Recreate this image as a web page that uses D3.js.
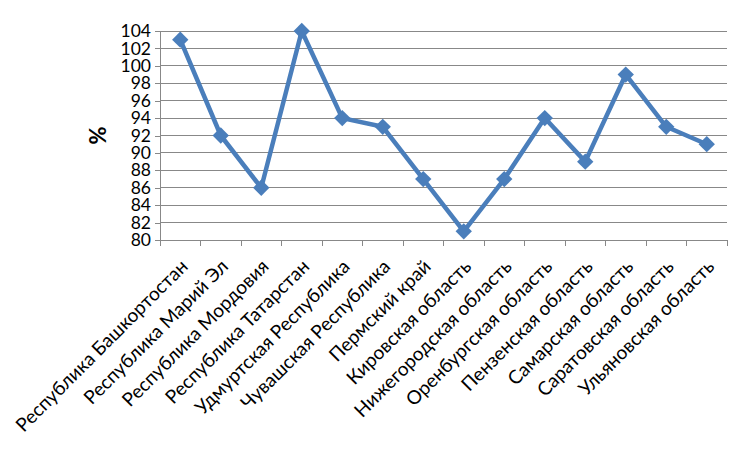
<!DOCTYPE html>
<html lang="ru">
<head>
    <meta charset="utf-8">
    <title>Chart</title>
    <style>
        body { margin: 0; background: #fff; }
        .axis text { font-family: Lato, "Open Sans", sans-serif; fill: #000; }
        .axis path, .axis line { stroke: #888; shape-rendering: crispEdges; }
        .grid line { stroke: #888; shape-rendering: crispEdges; }
    </style>
</head>
<body>
<div id="chart"></div>
<script src="https://cdn.jsdelivr.net/npm/d3@7"></script>
<script>
    var regions = [
        "Республика Башкортостан", "Республика Марий Эл", "Республика Мордовия",
        "Республика Татарстан", "Удмуртская Республика", "Чувашская Республика",
        "Пермский край", "Кировская область", "Нижегородская область",
        "Оренбургская область", "Пензенская область", "Самарская область",
        "Саратовская область", "Ульяновская область"
    ];
    var values = [103, 92, 86, 104, 94, 93, 87, 81, 87, 94, 89, 99, 93, 91];
    var yTicks = [80, 82, 84, 86, 88, 90, 92, 94, 96, 98, 100, 102, 104];

    var W = 749, H = 449;
    var margin = { top: 31, right: 22, bottom: 209, left: 160 },
        width = W - margin.left - margin.right,
        height = H - margin.top - margin.bottom;

    var svg = d3.select("#chart").append("svg")
        .attr("width", W)
        .attr("height", H)
        .append("g")
        .attr("transform", "translate(" + margin.left + "," + margin.top + ")");

    var x = d3.scaleBand().domain(regions).range([0, width]);
    var y = d3.scaleLinear().domain([80, 104]).range([height, 0]);

    // horizontal gridlines
    svg.append("g").attr("class", "grid")
        .selectAll("line")
        .data(yTicks.slice(1))
        .enter().append("line")
        .attr("x1", 0).attr("x2", width)
        .attr("y1", function(d) { return y(d); })
        .attr("y2", function(d) { return y(d); });

    // y axis
    var yAxis = svg.append("g").attr("class", "axis")
        .call(d3.axisLeft(y).tickValues(yTicks).tickSize(5).tickPadding(4));
    yAxis.selectAll("text").style("font-size", "17.5px");

    // x axis: ticks at category boundaries
    var xAxis = svg.append("g").attr("class", "axis")
        .attr("transform", "translate(0," + height + ")");
    xAxis.append("line").attr("x1", 0).attr("x2", width);
    xAxis.selectAll(".bt")
        .data(d3.range(regions.length + 1))
        .enter().append("line")
        .attr("class", "bt")
        .attr("x1", function(i) { return i * x.step(); })
        .attr("x2", function(i) { return i * x.step(); })
        .attr("y1", 0).attr("y2", 6);
    xAxis.selectAll(".lbl")
        .data(regions)
        .enter().append("text")
        .attr("class", "lbl")
        .attr("text-anchor", "end")
        .attr("transform", function(d) {
            return "translate(" + (x(d) + x.bandwidth() / 2 + 4) + ",23) rotate(-45)";
        })
        .attr("dy", "0.35em")
        .style("font-size", "19px")
        .text(function(d) { return d; });

    // y title
    svg.append("text")
        .attr("transform", "translate(-62," + (height / 2) + ") rotate(-90)")
        .attr("text-anchor", "middle")
        .attr("dy", "0.35em")
        .style("font-family", "Lato, sans-serif")
        .style("font-weight", "bold")
        .style("font-size", "22px")
        .text("%");

    var line = d3.line()
        .x(function(d, i) { return x(regions[i]) + x.bandwidth() / 2; })
        .y(function(d) { return y(d); });

    svg.append("path")
        .datum(values)
        .attr("fill", "none")
        .attr("stroke", "#4a7ebb")
        .attr("stroke-width", 4.5)
        .attr("stroke-linejoin", "round")
        .attr("d", line);

    svg.selectAll(".mk")
        .data(values)
        .enter().append("path")
        .attr("class", "mk")
        .attr("d", d3.symbol().type(d3.symbolDiamond2).size(170))
        .attr("fill", "#4a7ebb")
        .attr("transform", function(d, i) {
            return "translate(" + (x(regions[i]) + x.bandwidth() / 2) + "," + y(d) + ")";
        });
</script>
</body>
</html>
